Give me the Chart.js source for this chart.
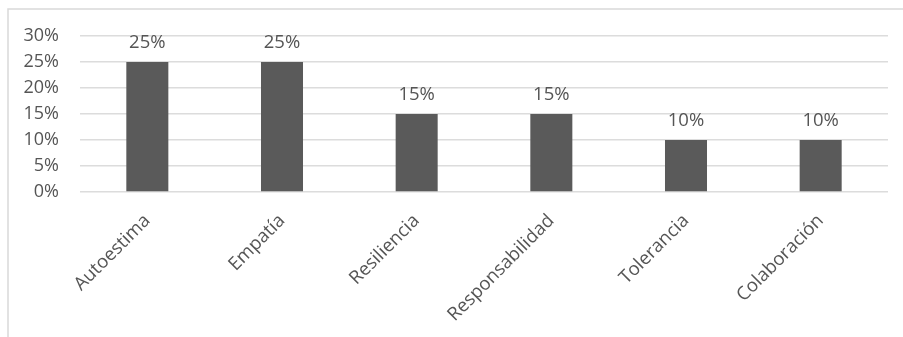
<!DOCTYPE html>
<html>
<head>
<meta charset="utf-8">
<script src="https://cdn.jsdelivr.net/npm/chart.js@4/dist/chart.umd.min.js"></script>
<style>
html,body{margin:0;padding:0;background:#fff;}
#wrap{width:903px;height:337px;position:relative;}
</style>
</head>
<body>
<div id="wrap"><canvas id="c" width="903" height="337"></canvas></div>
<script>
const categories = ['Autoestima', 'Empatía', 'Resiliencia', 'Responsabilidad', 'Tolerancia', 'Colaboración'];
const values = [25, 25, 15, 15, 10, 10];
const yTicks = [0, 5, 10, 15, 20, 25, 30];

const FONT = '"Open Sans", sans-serif';
const TEXT = '#555555';

const frame = {
  id: 'frame',
  beforeDraw(chart) {
    const ctx = chart.ctx;
    ctx.save();
    ctx.strokeStyle = '#d9d9d9';
    ctx.lineWidth = 1.5;
    ctx.beginPath();
    ctx.moveTo(8, 337);
    ctx.lineTo(8, 9);
    ctx.lineTo(903, 9);
    ctx.stroke();
    ctx.restore();
  }
};

const labels = {
  id: 'valueLabels',
  afterDatasetsDraw(chart) {
    const ctx = chart.ctx;
    const meta = chart.getDatasetMeta(0);
    ctx.save();
    ctx.font = '18.5px ' + FONT;
    ctx.fillStyle = TEXT;
    ctx.textAlign = 'center';
    ctx.textBaseline = 'alphabetic';
    meta.data.forEach((el, i) => {
      ctx.fillText(values[i] + '%', el.x, el.y - 14);
    });
    ctx.restore();
  }
};

new Chart(document.getElementById('c'), {
  type: 'bar',
  data: {
    labels: categories,
    datasets: [{
      data: values,
      backgroundColor: '#5a5a5a',
      borderWidth: 0,
      barPercentage: 0.312,
      categoryPercentage: 1
    }]
  },
  options: {
    responsive: false,
    animation: false,
    layout: { padding: { left: 0, right: 15, top: 36, bottom: 0 } },
    plugins: { legend: { display: false }, tooltip: { enabled: false } },
    scales: {
      x: {
        grid: { display: false, drawTicks: false },
        border: { display: false },
        ticks: {
          color: TEXT,
          font: { family: FONT, size: 18.5 },
          maxRotation: 45,
          minRotation: 45,
          padding: 18,
          autoSkip: false
        },
        afterFit(scale) { scale.height = 145; }
      },
      y: {
        min: 0,
        max: 30,
        afterBuildTicks(scale) { scale.ticks = yTicks.map(v => ({ value: v })); },
        grid: { color: '#dcdcdc', lineWidth: 1.6, drawTicks: false },
        border: { display: false },
        ticks: {
          color: TEXT,
          font: { family: FONT, size: 18 },
          padding: 21,
          callback: v => v + '%'
        },
        afterFit(scale) { scale.width = 80; }
      }
    }
  },
  plugins: [frame, labels]
});
</script>
</body>
</html>
